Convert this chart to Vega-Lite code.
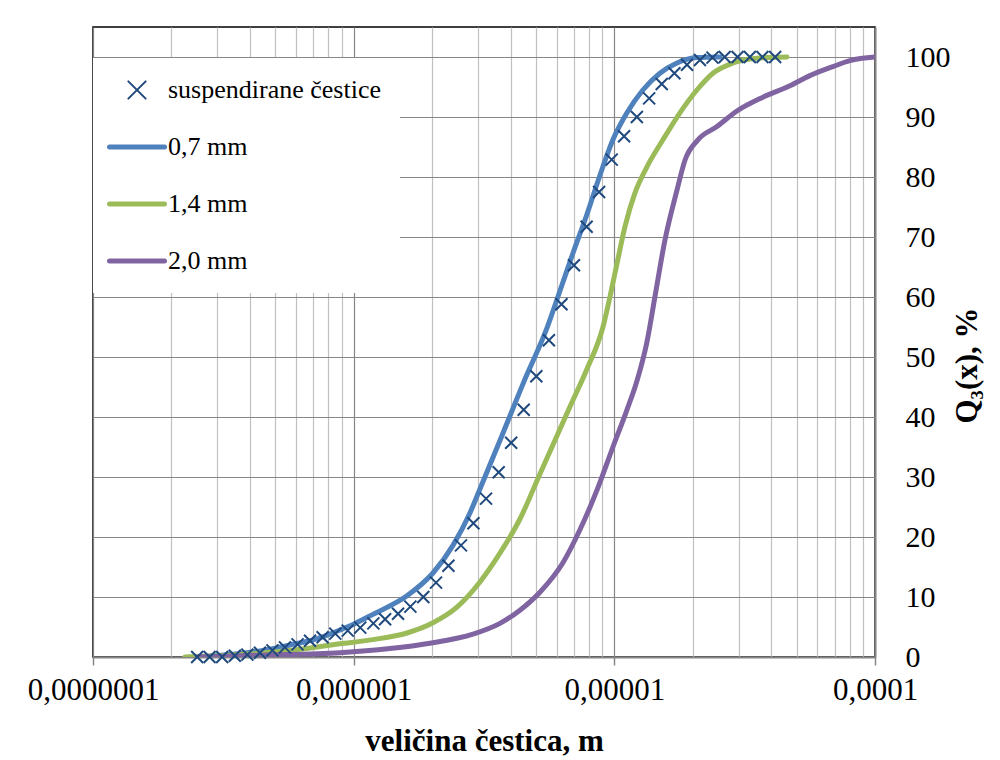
{
  "$schema": "https://vega.github.io/schema/vega-lite/v6.json",
  "width": 782,
  "height": 630,
  "autosize": {"type": "none"},
  "padding": {"left": 93, "top": 27, "right": 125, "bottom": 103},
  "background": "white",
  "config": {
    "font": "Liberation Serif",
    "view": {"stroke": "#000000", "strokeWidth": 1.5}
  },
  "datasets": {
    "d": [
      {"s": "0,7 mm", "x": 2.51e-7, "y": 0},
      {"s": "0,7 mm", "x": 3.35e-7, "y": 0.4},
      {"s": "0,7 mm", "x": 4.37e-7, "y": 1.0},
      {"s": "0,7 mm", "x": 5.70e-7, "y": 2.0},
      {"s": "0,7 mm", "x": 7.42e-7, "y": 3.2},
      {"s": "0,7 mm", "x": 8.86e-7, "y": 4.5},
      {"s": "0,7 mm", "x": 1.003e-6, "y": 5.5},
      {"s": "0,7 mm", "x": 1.186e-6, "y": 7.1},
      {"s": "0,7 mm", "x": 1.601e-6, "y": 10.2},
      {"s": "0,7 mm", "x": 2.015e-6, "y": 14.0},
      {"s": "0,7 mm", "x": 2.404e-6, "y": 18.6},
      {"s": "0,7 mm", "x": 2.793e-6, "y": 24.0},
      {"s": "0,7 mm", "x": 3.051e-6, "y": 28.0},
      {"s": "0,7 mm", "x": 3.738e-6, "y": 37.3},
      {"s": "0,7 mm", "x": 4.500e-6, "y": 45.9},
      {"s": "0,7 mm", "x": 5.513e-6, "y": 54.8},
      {"s": "0,7 mm", "x": 6.183e-6, "y": 61.0},
      {"s": "0,7 mm", "x": 6.937e-6, "y": 67.3},
      {"s": "0,7 mm", "x": 7.852e-6, "y": 73.8},
      {"s": "0,7 mm", "x": 8.808e-6, "y": 80.3},
      {"s": "0,7 mm", "x": 9.876e-6, "y": 86.2},
      {"s": "0,7 mm", "x": 1.118e-5, "y": 90.7},
      {"s": "0,7 mm", "x": 1.287e-5, "y": 94.5},
      {"s": "0,7 mm", "x": 1.496e-5, "y": 97.3},
      {"s": "0,7 mm", "x": 1.739e-5, "y": 99.0},
      {"s": "0,7 mm", "x": 2.074e-5, "y": 99.9},
      {"s": "0,7 mm", "x": 2.541e-5, "y": 100},

      {"s": "1,4 mm", "x": 2.25e-7, "y": 0},
      {"s": "1,4 mm", "x": 3.35e-7, "y": 0.3},
      {"s": "1,4 mm", "x": 5.22e-7, "y": 0.9},
      {"s": "1,4 mm", "x": 8.86e-7, "y": 2.2},
      {"s": "1,4 mm", "x": 1.186e-6, "y": 2.9},
      {"s": "1,4 mm", "x": 1.601e-6, "y": 4.0},
      {"s": "1,4 mm", "x": 2.015e-6, "y": 5.7},
      {"s": "1,4 mm", "x": 2.490e-6, "y": 8.3},
      {"s": "1,4 mm", "x": 3.051e-6, "y": 12.5},
      {"s": "1,4 mm", "x": 3.640e-6, "y": 17.3},
      {"s": "1,4 mm", "x": 4.344e-6, "y": 23.0},
      {"s": "1,4 mm", "x": 5.183e-6, "y": 30.5},
      {"s": "1,4 mm", "x": 6.756e-6, "y": 41.7},
      {"s": "1,4 mm", "x": 7.852e-6, "y": 48.0},
      {"s": "1,4 mm", "x": 9.044e-6, "y": 55.0},
      {"s": "1,4 mm", "x": 9.618e-6, "y": 60.0},
      {"s": "1,4 mm", "x": 1.023e-5, "y": 65.5},
      {"s": "1,4 mm", "x": 1.098e-5, "y": 71.7},
      {"s": "1,4 mm", "x": 1.199e-5, "y": 77.3},
      {"s": "1,4 mm", "x": 1.334e-5, "y": 81.7},
      {"s": "1,4 mm", "x": 1.536e-5, "y": 86.2},
      {"s": "1,4 mm", "x": 1.785e-5, "y": 90.7},
      {"s": "1,4 mm", "x": 2.074e-5, "y": 94.5},
      {"s": "1,4 mm", "x": 2.389e-5, "y": 97.3},
      {"s": "1,4 mm", "x": 2.851e-5, "y": 99.0},
      {"s": "1,4 mm", "x": 3.524e-5, "y": 99.8},
      {"s": "1,4 mm", "x": 4.593e-5, "y": 100},

      {"s": "2,0 mm", "x": 2.51e-7, "y": 0},
      {"s": "2,0 mm", "x": 4.37e-7, "y": 0.3},
      {"s": "2,0 mm", "x": 8.86e-7, "y": 0.7},
      {"s": "2,0 mm", "x": 1.378e-6, "y": 1.4},
      {"s": "2,0 mm", "x": 1.962e-6, "y": 2.3},
      {"s": "2,0 mm", "x": 2.868e-6, "y": 3.8},
      {"s": "2,0 mm", "x": 3.640e-6, "y": 5.6},
      {"s": "2,0 mm", "x": 4.344e-6, "y": 7.8},
      {"s": "2,0 mm", "x": 5.183e-6, "y": 10.8},
      {"s": "2,0 mm", "x": 6.350e-6, "y": 15.7},
      {"s": "2,0 mm", "x": 7.379e-6, "y": 21.2},
      {"s": "2,0 mm", "x": 8.578e-6, "y": 27.8},
      {"s": "2,0 mm", "x": 9.876e-6, "y": 35.0},
      {"s": "2,0 mm", "x": 1.118e-5, "y": 41.2},
      {"s": "2,0 mm", "x": 1.221e-5, "y": 46.0},
      {"s": "2,0 mm", "x": 1.334e-5, "y": 52.5},
      {"s": "2,0 mm", "x": 1.431e-5, "y": 60.0},
      {"s": "2,0 mm", "x": 1.564e-5, "y": 69.5},
      {"s": "2,0 mm", "x": 1.739e-5, "y": 77.8},
      {"s": "2,0 mm", "x": 1.866e-5, "y": 82.8},
      {"s": "2,0 mm", "x": 2.093e-5, "y": 86.2},
      {"s": "2,0 mm", "x": 2.475e-5, "y": 88.4},
      {"s": "2,0 mm", "x": 2.953e-5, "y": 91.0},
      {"s": "2,0 mm", "x": 3.715e-5, "y": 93.3},
      {"s": "2,0 mm", "x": 4.716e-5, "y": 95.2},
      {"s": "2,0 mm", "x": 5.627e-5, "y": 96.9},
      {"s": "2,0 mm", "x": 6.895e-5, "y": 98.4},
      {"s": "2,0 mm", "x": 8.012e-5, "y": 99.4},
      {"s": "2,0 mm", "x": 1.0e-4, "y": 100},

      {"s": "suspendirane čestice", "x": 2.51e-7, "y": 0},
      {"s": "suspendirane čestice", "x": 2.80e-7, "y": 0},
      {"s": "suspendirane čestice", "x": 3.13e-7, "y": 0},
      {"s": "suspendirane čestice", "x": 3.50e-7, "y": 0.2},
      {"s": "suspendirane čestice", "x": 3.91e-7, "y": 0.4},
      {"s": "suspendirane čestice", "x": 4.37e-7, "y": 0.7},
      {"s": "suspendirane čestice", "x": 4.88e-7, "y": 1.1},
      {"s": "suspendirane čestice", "x": 5.45e-7, "y": 1.6},
      {"s": "suspendirane čestice", "x": 6.09e-7, "y": 2.1},
      {"s": "suspendirane čestice", "x": 6.80e-7, "y": 2.7},
      {"s": "suspendirane čestice", "x": 7.60e-7, "y": 3.3},
      {"s": "suspendirane čestice", "x": 8.50e-7, "y": 3.9},
      {"s": "suspendirane čestice", "x": 9.49e-7, "y": 4.4},
      {"s": "suspendirane čestice", "x": 1.06e-6, "y": 4.9},
      {"s": "suspendirane čestice", "x": 1.19e-6, "y": 5.6},
      {"s": "suspendirane čestice", "x": 1.32e-6, "y": 6.3},
      {"s": "suspendirane čestice", "x": 1.48e-6, "y": 7.2},
      {"s": "suspendirane čestice", "x": 1.65e-6, "y": 8.4},
      {"s": "suspendirane čestice", "x": 1.85e-6, "y": 10.0},
      {"s": "suspendirane čestice", "x": 2.07e-6, "y": 12.4},
      {"s": "suspendirane čestice", "x": 2.31e-6, "y": 15.2},
      {"s": "suspendirane čestice", "x": 2.58e-6, "y": 18.6},
      {"s": "suspendirane čestice", "x": 2.88e-6, "y": 22.3},
      {"s": "suspendirane čestice", "x": 3.22e-6, "y": 26.4},
      {"s": "suspendirane čestice", "x": 3.60e-6, "y": 30.8},
      {"s": "suspendirane čestice", "x": 4.02e-6, "y": 35.7},
      {"s": "suspendirane čestice", "x": 4.49e-6, "y": 41.2},
      {"s": "suspendirane čestice", "x": 5.02e-6, "y": 46.8},
      {"s": "suspendirane čestice", "x": 5.61e-6, "y": 52.8},
      {"s": "suspendirane čestice", "x": 6.27e-6, "y": 58.8},
      {"s": "suspendirane čestice", "x": 7.00e-6, "y": 65.3},
      {"s": "suspendirane čestice", "x": 7.83e-6, "y": 71.7},
      {"s": "suspendirane čestice", "x": 8.74e-6, "y": 77.5},
      {"s": "suspendirane čestice", "x": 9.77e-6, "y": 82.9},
      {"s": "suspendirane čestice", "x": 1.09e-5, "y": 86.8},
      {"s": "suspendirane čestice", "x": 1.22e-5, "y": 90.0},
      {"s": "suspendirane čestice", "x": 1.36e-5, "y": 93.1},
      {"s": "suspendirane čestice", "x": 1.52e-5, "y": 95.5},
      {"s": "suspendirane čestice", "x": 1.70e-5, "y": 97.3},
      {"s": "suspendirane čestice", "x": 1.90e-5, "y": 98.7},
      {"s": "suspendirane čestice", "x": 2.13e-5, "y": 99.5},
      {"s": "suspendirane čestice", "x": 2.38e-5, "y": 99.9},
      {"s": "suspendirane čestice", "x": 2.65e-5, "y": 100},
      {"s": "suspendirane čestice", "x": 2.97e-5, "y": 100},
      {"s": "suspendirane čestice", "x": 3.31e-5, "y": 100},
      {"s": "suspendirane čestice", "x": 3.70e-5, "y": 100},
      {"s": "suspendirane čestice", "x": 4.14e-5, "y": 100}
    ]
  },
  "data": {"name": "d"},
  "encoding": {
    "x": {
      "field": "x",
      "type": "quantitative",
      "scale": {"type": "log", "domain": [1e-7, 1e-4], "nice": false},
      "axis": {
        "values": [1e-7, 2e-7, 3e-7, 4e-7, 5e-7, 6e-7, 7e-7, 8e-7, 9e-7, 1e-6, 2e-6, 3e-6, 4e-6, 5e-6, 6e-6, 7e-6, 8e-6, 9e-6, 1e-5, 2e-5, 3e-5, 4e-5, 5e-5, 6e-5, 7e-5, 8e-5, 9e-5, 1e-4],
        "labelExpr": "abs(log(datum.value)/LN10 - round(log(datum.value)/LN10)) < 0.001 ? replace(format(datum.value, '.7~f'), '.', ',') : ''",
        "grid": true,
        "gridColor": {"condition": {"test": "abs(log(datum.value)/LN10 - round(log(datum.value)/LN10)) < 0.001", "value": "#868686"}, "value": "#C0C0C0"},
        "gridWidth": 1.2,
        "tickOpacity": {"condition": {"test": "abs(log(datum.value)/LN10 - round(log(datum.value)/LN10)) < 0.001", "value": 1}, "value": 0},
        "tickColor": "#868686",
        "tickSize": 8,
        "tickWidth": 1.5,
        "domainColor": "#868686",
        "domainWidth": 2,
        "labelFont": "Liberation Serif",
        "labelFontSize": 31,
        "labelColor": "#000000",
        "labelPadding": 10,
        "labelFlush": false,
        "labelOverlap": false,
        "title": "veličina čestica, m",
        "titleFont": "Liberation Serif",
        "titleFontSize": 31,
        "titleFontWeight": "bold",
        "titleColor": "#000000",
        "titleX": 391,
        "titleY": 93,
        "titleAlign": "center",
        "titleBaseline": "alphabetic"
      }
    },
    "y": {
      "field": "y",
      "type": "quantitative",
      "scale": {"domain": [0, 105], "nice": false, "zero": true},
      "axis": {
        "orient": "right",
        "values": [0, 10, 20, 30, 40, 50, 60, 70, 80, 90, 100],
        "grid": true,
        "gridColor": "#868686",
        "gridWidth": 1.2,
        "ticks": false,
        "domainColor": "#868686",
        "domainWidth": 2,
        "labelFont": "Liberation Serif",
        "labelFontSize": 30,
        "labelColor": "#000000",
        "labelPadding": 30,
        "labelAlign": "left",
        "labelBaseline": "middle",
        "title": "Q₃(x), %",
        "titleFont": "Liberation Serif",
        "titleFontSize": 31,
        "titleFontWeight": "bold",
        "titleColor": "#000000",
        "titleAngle": 270,
        "titleX": 92,
        "titleY": 338,
        "titleAlign": "center",
        "titleBaseline": "middle"
      }
    },
    "color": {
      "field": "s",
      "type": "nominal",
      "scale": {
        "domain": ["suspendirane čestice", "0,7 mm", "1,4 mm", "2,0 mm"],
        "range": ["#1F497D", "#4F81BD", "#9BBB59", "#8064A2"]
      },
      "legend": {
        "title": null,
        "orient": "none",
        "legendX": 0,
        "legendY": 31,
        "fillColor": "white",
        "padding": 19,
        "symbolOffset": 12,
        "symbolSize": 3025,
        "symbolType": "stroke",
        "symbolStrokeWidth": 5,
        "labelOffset": 18,
        "rowPadding": 31,
        "labelFont": "Liberation Serif",
        "labelFontSize": 26,
        "labelColor": "#000000",
        "labelLimit": 400,
        "encode": {
          "symbols": {
            "update": {
              "shape": {"signal": "datum.value === 'suspendirane čestice' ? 'M-1,-1L1,1M1,-1L-1,1' : 'stroke'"},
              "size": {"signal": "datum.value === 'suspendirane čestice' ? 300 : 3025"},
              "strokeWidth": {"signal": "datum.value === 'suspendirane čestice' ? 2 : 5"},
              "strokeCap": {"value": "round"},
              "fill": {"value": "transparent"}
            }
          }
        }
      }
    }
  },
  "layer": [
    {
      "transform": [{"filter": "datum.s !== 'suspendirane čestice'"}],
      "mark": {"type": "line", "strokeWidth": 5, "interpolate": "monotone", "strokeCap": "round", "clip": true}
    },
    {
      "transform": [{"filter": "datum.s === 'suspendirane čestice'"}],
      "mark": {"type": "point", "shape": "M-1,-1L1,1M1,-1L-1,1", "size": 144, "filled": false, "strokeWidth": 2, "opacity": 1}
    }
  ]
}
